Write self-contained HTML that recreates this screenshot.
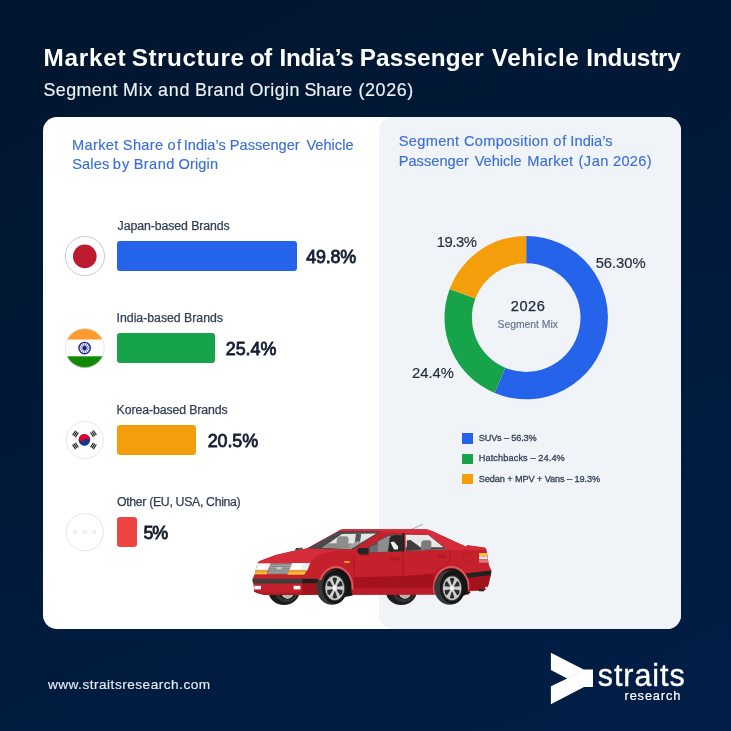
<!DOCTYPE html>
<html lang="en">
<head>
<meta charset="utf-8">
<title>Market Structure of India’s Passenger Vehicle Industry</title>
<style>
html,body{margin:0;padding:0}
body{width:731px;height:731px;position:relative;overflow:hidden;font-family:"Liberation Sans", Arial, sans-serif;
background:linear-gradient(155deg,rgb(1,22,46) 0%,rgb(1,30,71) 100%);background-color:#011a3a}
h1,h2,p,ul,li{margin:0;padding:0;font-size:inherit;font-weight:inherit;list-style:none}
.t{position:absolute;white-space:nowrap;line-height:1;margin:0;padding:0}
.card{position:absolute;left:43.3px;top:117px;width:637.7px;height:512.3px;background:#ffffff;border-radius:14px}
.panel{position:absolute;left:379.2px;top:117px;width:301.8px;height:512.3px;background:#f0f4f8;border-radius:14px}
.bar{position:absolute;left:117px;height:29.8px;border-radius:3px}
.sw{position:absolute;left:462.3px;width:10.3px;height:10.2px}
svg{position:absolute;left:0;top:0;overflow:visible}
</style>
</head>
<body>
<header>
<h1 class="t" id="title" style="left:43.50px;top:46.23px;font-size:24.3px;font-weight:700;color:#ffffff"><span style="letter-spacing:0.73px">Market</span> <span style="letter-spacing:0.52px;margin-left:-1.26px">Structure</span> <span style="letter-spacing:-0.80px;margin-left:-1.11px">of</span> <span style="letter-spacing:-0.27px;margin-left:1.26px">India’s</span> <span style="letter-spacing:0.14px;margin-left:-0.65px">Passenger</span> <span style="letter-spacing:0.53px;margin-left:1.09px">Vehicle</span> <span style="letter-spacing:-0.20px;margin-left:0.37px">Industry</span></h1>
<p class="t" id="sub" style="left:43.53px;top:82.04px;font-size:17.9px;font-weight:400;color:#eef2f8;-webkit-text-stroke:0.15px #eef2f8"><span style="letter-spacing:0.39px">Segment</span> <span style="letter-spacing:0.70px;margin-left:0.23px">Mix</span> <span style="letter-spacing:0.86px;margin-left:-0.12px">and</span> <span style="letter-spacing:0.38px;margin-left:-0.39px">Brand</span> <span style="letter-spacing:0.43px;margin-left:-0.06px">Origin</span> <span style="letter-spacing:-0.01px;margin-left:-0.41px">Share</span> <span style="letter-spacing:0.62px;margin-left:1.39px">(2026)</span></p>
</header>
<main>
<div class="card"></div>
<div class="panel"></div>
<section class="brand-origin">
<h2><span class="t" id="lh1" style="left:72.10px;top:138.14px;font-size:14.6px;font-weight:400;color:#3a6fd8;-webkit-text-stroke:0.15px #3a6fd8"><span style="letter-spacing:0.30px">Market</span> <span style="letter-spacing:0.35px;margin-left:0.25px">Share</span> <span style="letter-spacing:1.52px;margin-left:-0.19px">of</span> <span style="letter-spacing:0.01px;margin-left:-2.98px">India’s</span> <span style="letter-spacing:0.01px;margin-left:0.03px">Passenger</span> <span style="letter-spacing:0.00px;margin-left:2.74px">Vehicle</span></span>
<span class="t" id="lh2" style="left:72.22px;top:156.74px;font-size:14.6px;font-weight:400;color:#3a6fd8;-webkit-text-stroke:0.15px #3a6fd8"><span style="letter-spacing:0.15px">Sales</span> <span style="letter-spacing:1.18px;margin-left:-0.89px">by</span> <span style="letter-spacing:0.43px;margin-left:-0.88px">Brand</span> <span style="letter-spacing:0.12px;margin-left:-0.34px">Origin</span></span></h2>
<div class="row">
<svg width="731" height="731" viewBox="0 0 731 731" aria-hidden="true"><g id="flag-japan"><circle cx="84.9" cy="256.1" r="19.6" fill="#fff" stroke="#c3c6cd" stroke-width="0.9"/><circle cx="84.8" cy="256.4" r="11.8" fill="#bc1c2e"/></g></svg>
<div class="t" id="lab1" style="left:117.60px;top:220.29px;font-size:12.3px;font-weight:400;color:#334155;letter-spacing:-0.082px;-webkit-text-stroke:0.25px #334155">Japan-based Brands</div>
<div class="bar" style="top:241.1px;width:180.4px;background:#2563eb"></div>
<div class="t" id="val1" style="left:306.20px;top:249.04px;font-size:17.9px;font-weight:400;color:#141c2f;letter-spacing:-0.200px;-webkit-text-stroke:0.8px #141c2f">49.8%</div>
</div>
<div class="row">
<svg width="731" height="731" viewBox="0 0 731 731" aria-hidden="true"><g id="flag-india"><clipPath id="cpin"><circle cx="84.8" cy="348.1" r="19.7"/></clipPath><g clip-path="url(#cpin)"><rect x="60" y="325" width="50" height="14.7" fill="#ff9a2f"/><rect x="60" y="339.7" width="50" height="16.6" fill="#ffffff"/><rect x="60" y="356.3" width="50" height="14" fill="#128807"/></g><circle cx="84.8" cy="348.1" r="19.4" fill="none" stroke="#d8dadd" stroke-width="0.6"/><circle cx="84.6" cy="348.1" r="5.7" fill="none" stroke="#1b1f8a" stroke-width="1.3"/><circle cx="84.6" cy="348.1" r="2" fill="#1b1f8a"/><line x1="84.6" y1="348.1" x2="90.00" y2="348.10" stroke="#1b1f8a" stroke-width="0.6"/><line x1="84.6" y1="348.1" x2="89.28" y2="350.80" stroke="#1b1f8a" stroke-width="0.6"/><line x1="84.6" y1="348.1" x2="87.30" y2="352.78" stroke="#1b1f8a" stroke-width="0.6"/><line x1="84.6" y1="348.1" x2="84.60" y2="353.50" stroke="#1b1f8a" stroke-width="0.6"/><line x1="84.6" y1="348.1" x2="81.90" y2="352.78" stroke="#1b1f8a" stroke-width="0.6"/><line x1="84.6" y1="348.1" x2="79.92" y2="350.80" stroke="#1b1f8a" stroke-width="0.6"/><line x1="84.6" y1="348.1" x2="79.20" y2="348.10" stroke="#1b1f8a" stroke-width="0.6"/><line x1="84.6" y1="348.1" x2="79.92" y2="345.40" stroke="#1b1f8a" stroke-width="0.6"/><line x1="84.6" y1="348.1" x2="81.90" y2="343.42" stroke="#1b1f8a" stroke-width="0.6"/><line x1="84.6" y1="348.1" x2="84.60" y2="342.70" stroke="#1b1f8a" stroke-width="0.6"/><line x1="84.6" y1="348.1" x2="87.30" y2="343.42" stroke="#1b1f8a" stroke-width="0.6"/><line x1="84.6" y1="348.1" x2="89.28" y2="345.40" stroke="#1b1f8a" stroke-width="0.6"/></g></svg>
<div class="t" id="lab2" style="left:116.60px;top:312.39px;font-size:12.3px;font-weight:400;color:#334155;letter-spacing:-0.019px;-webkit-text-stroke:0.25px #334155">India-based Brands</div>
<div class="bar" style="top:333.1px;width:98.3px;background:#16a34a"></div>
<div class="t" id="val2" style="left:225.69px;top:340.84px;font-size:17.9px;font-weight:400;color:#141c2f;letter-spacing:0.001px;-webkit-text-stroke:0.8px #141c2f">25.4%</div>
</div>
<div class="row">
<svg width="731" height="731" viewBox="0 0 731 731" aria-hidden="true"><g id="flag-korea"><circle cx="84.8" cy="440.0" r="18.6" fill="#fff" stroke="#e1e3e7" stroke-width="0.9"/><g transform="rotate(33.7 84.4 440.0)"><circle cx="84.4" cy="440.0" r="5.8" fill="#0e3a8e"/><path d="M78.60000000000001 440.0A5.8 5.8 0 0 1 90.2 440.0A2.9 2.9 0 0 0 84.4 440.0A2.9 2.9 0 0 1 78.60000000000001 440.0Z" fill="#e3002d"/></g><g transform="translate(75.5 433.9) rotate(-145.6)" stroke="#1c1c1c" stroke-width="1.1"><line x1="-1.7" y1="-2.7" x2="-1.7" y2="2.7"/><line x1="0" y1="-2.7" x2="0" y2="2.7"/><line x1="1.7" y1="-2.7" x2="1.7" y2="2.7"/></g><g transform="translate(93.4 433.7) rotate(-35.0)" stroke="#1c1c1c" stroke-width="1.1"><line x1="-1.7" y1="-2.7" x2="-1.7" y2="2.7"/><line x1="0" y1="-2.7" x2="0" y2="2.7"/><line x1="1.7" y1="-2.7" x2="1.7" y2="2.7"/></g><g transform="translate(75.5 445.9) rotate(146.5)" stroke="#1c1c1c" stroke-width="1.1"><line x1="-1.7" y1="-2.7" x2="-1.7" y2="2.7"/><line x1="0" y1="-2.7" x2="0" y2="2.7"/><line x1="1.7" y1="-2.7" x2="1.7" y2="2.7"/></g><g transform="translate(93.4 445.9) rotate(33.2)" stroke="#1c1c1c" stroke-width="1.1"><line x1="-1.7" y1="-2.7" x2="-1.7" y2="2.7"/><line x1="0" y1="-2.7" x2="0" y2="2.7"/><line x1="1.7" y1="-2.7" x2="1.7" y2="2.7"/></g></g></svg>
<div class="t" id="lab3" style="left:116.60px;top:404.49px;font-size:12.3px;font-weight:400;color:#334155;letter-spacing:-0.098px;-webkit-text-stroke:0.25px #334155">Korea-based Brands</div>
<div class="bar" style="top:425.1px;width:79.3px;background:#f59e0b"></div>
<div class="t" id="val3" style="left:207.69px;top:432.64px;font-size:17.9px;font-weight:400;color:#141c2f;letter-spacing:-0.074px;-webkit-text-stroke:0.8px #141c2f">20.5%</div>
</div>
<div class="row">
<svg width="731" height="731" viewBox="0 0 731 731" aria-hidden="true"><g id="flag-other"><circle cx="84.8" cy="532.2" r="18.6" fill="#fff" stroke="#dfe1e4" stroke-width="0.9"/><circle cx="75.1" cy="532" r="1.4" fill="#fff" stroke="#d3d6da" stroke-width="0.7"/><circle cx="84.7" cy="532" r="1.4" fill="#fff" stroke="#d3d6da" stroke-width="0.7"/><circle cx="94.5" cy="532" r="1.4" fill="#fff" stroke="#d3d6da" stroke-width="0.7"/></g></svg>
<div class="t" id="lab4" style="left:116.98px;top:496.49px;font-size:12.3px;font-weight:400;color:#334155;letter-spacing:-0.323px;-webkit-text-stroke:0.25px #334155">Other (EU, USA, China)</div>
<div class="bar" style="top:517.1px;width:20.0px;background:#ef4444"></div>
<div class="t" id="val4" style="left:143.51px;top:524.64px;font-size:17.9px;font-weight:400;color:#141c2f;letter-spacing:-1.122px;-webkit-text-stroke:0.8px #141c2f">5%</div>
</div>
</section>
<section class="segment-mix">
<h2><span class="t" id="rh1" style="left:398.82px;top:134.44px;font-size:14.6px;font-weight:400;color:#3a6fd8;-webkit-text-stroke:0.15px #3a6fd8"><span style="letter-spacing:0.30px">Segment</span> <span style="letter-spacing:0.33px;margin-left:0.49px">Composition</span> <span style="letter-spacing:1.02px;margin-left:0.55px">of</span> <span style="letter-spacing:0.06px;margin-left:-1.18px">India’s</span></span>
<span class="t" id="rh2" style="left:398.70px;top:154.34px;font-size:14.6px;font-weight:400;color:#3a6fd8;-webkit-text-stroke:0.15px #3a6fd8"><span style="letter-spacing:0.04px">Passenger</span> <span style="letter-spacing:-0.02px;margin-left:1.82px">Vehicle</span> <span style="letter-spacing:0.26px;margin-left:1.59px">Market</span> <span style="letter-spacing:0.48px;margin-left:1.02px">(Jan</span> <span style="letter-spacing:0.32px;margin-left:0.07px">2026)</span></span></h2>
<div class="donut">
<svg width="731" height="731" viewBox="0 0 731 731" aria-hidden="true">
<path d="M526.20 235.90A81.7 81.7 0 1 1 494.70 392.98L505.26 367.70A54.3 54.3 0 1 0 526.20 263.30Z" fill="#2563eb"/>
<path d="M494.70 392.98A81.7 81.7 0 0 1 449.68 288.96L475.35 298.57A54.3 54.3 0 0 0 505.26 367.70Z" fill="#16a34a"/>
<path d="M449.68 288.96A81.7 81.7 0 0 1 526.20 235.90L526.20 263.30A54.3 54.3 0 0 0 475.35 298.57Z" fill="#f59e0b"/>
</svg>
<div class="t" id="d1" style="left:595.66px;top:255.57px;font-size:14.8px;font-weight:400;color:#1f2937;letter-spacing:-0.053px;-webkit-text-stroke:0.15px #1f2937">56.30%</div>
<div class="t" id="d2" style="left:412.05px;top:365.87px;font-size:14.8px;font-weight:400;color:#1f2937;letter-spacing:0.002px;-webkit-text-stroke:0.15px #1f2937">24.4%</div>
<div class="t" id="d3" style="left:436.70px;top:235.27px;font-size:14.8px;font-weight:400;color:#1f2937;letter-spacing:-0.460px;-webkit-text-stroke:0.15px #1f2937">19.3%</div>
<div class="t" id="c1" style="left:510.76px;top:299.04px;font-size:14.6px;font-weight:400;color:#1e293b;letter-spacing:0.546px;-webkit-text-stroke:0.25px #1e293b">2026</div>
<div class="t" id="c2" style="left:497.61px;top:320.49px;font-size:10.4px;font-weight:400;color:#64748b;letter-spacing:-0.035px;-webkit-text-stroke:0.15px #64748b">Segment Mix</div>
</div>
<ul class="legend">
<li><i class="sw" style="top:433.4px;background:#2563eb"></i><span class="t" id="lg1" style="left:478.74px;top:433.91px;font-size:9.2px;font-weight:400;color:#334155;letter-spacing:-0.168px;-webkit-text-stroke:0.28px #334155">SUVs – 56.3%</span></li>
<li><i class="sw" style="top:453.9px;background:#16a34a"></i><span class="t" id="lg2" style="left:478.75px;top:454.31px;font-size:9.2px;font-weight:400;color:#334155;letter-spacing:0.103px;-webkit-text-stroke:0.28px #334155">Hatchbacks – 24.4%</span></li>
<li><i class="sw" style="top:474.3px;background:#f59e0b"></i><span class="t" id="lg3" style="left:478.74px;top:474.61px;font-size:9.2px;font-weight:400;color:#334155;letter-spacing:-0.102px;-webkit-text-stroke:0.28px #334155">Sedan + MPV + Vans – 19.3%</span></li>
</ul>
</section>
<svg width="731" height="731" viewBox="0 0 731 731" aria-hidden="true">
<g id="car">
<ellipse cx="284.0" cy="591.5" rx="15.4" ry="13.4" fill="#1b1b1b"/>
<ellipse cx="286.6" cy="591" rx="11.6" ry="11.2" fill="#343434"/>
<ellipse cx="287.4" cy="590" rx="9.2" ry="9.6" fill="#151515"/>
<ellipse cx="287.6" cy="590.5" rx="6.9" ry="8.4" fill="#b5b5b5"/>
<ellipse cx="401.3" cy="591.5" rx="15.4" ry="13.4" fill="#1b1b1b"/>
<ellipse cx="403.90000000000003" cy="591" rx="11.6" ry="11.2" fill="#343434"/>
<ellipse cx="404.7" cy="590" rx="9.2" ry="9.6" fill="#151515"/>
<ellipse cx="404.90000000000003" cy="590.5" rx="6.9" ry="8.4" fill="#b5b5b5"/>
<path d="M257.3 563.7Q257.8 561.6 259.8 560.9L275.8 555.1L294.2 550.8L306.5 548.6L338.2 531Q340.2 529.5 343.5 529.3L426.5 529.2Q432 530.4 437.3 533.5L465.6 546.5L467.5 545.2L485.3 547.7Q486.6 549 486.9 552L489 565.5L491.5 570.5L490.8 575.4L487.8 587.1Q486.6 590 484.1 590.3L470.5 590.8L469 594.5L300 594.8L268.4 595.1Q258 594.2 254.2 591.4L253.4 583.4L252.6 578.8L254.6 574.2Z" fill="#c4212c"/>
<path d="M257.6 563.3Q258 561.5 259.8 560.9L275.8 555.1L294.2 550.8L306.5 548.6L353.6 550.2Q340 549.6 324 553.2Q313 556.5 310.2 563.3Z" fill="#d42c38"/>
<path d="M338.2 531Q340.2 529.5 343.5 529.3L426.5 529.2Q432 530.4 437.3 533.5L465.6 546.5L467.5 545.2L485.3 547.7L486.4 550L455 550.6L446 549.5L429 534.6L379 531.3Z" fill="#d42c38"/>
<path d="M354 577.2L403 576.0L433.7 573.3Q433.2 580 433.2 585.5Q432.8 587.7 430 587.7L354.2 587.7Z" fill="#a4131b"/>
<path d="M302.2 583.4L317.8 583.4L317.8 594.7L302.2 594.9Z" fill="#a4131b"/>
<path d="M254.2 591.4Q258 594.2 268.4 595.1L302.2 594.9L302.2 592.6L268 592.8Q258 592 253.9 589.5Z" fill="#b11a24"/>
<path d="M466.2 577.8L490.8 575.1L487.8 587.1Q486.6 590 484.1 590.3L470.5 590.8Q468 584 466.2 577.8Z" fill="#a4131b"/>
<path d="M350 587.9L432 587.9L434 594.6L350 594.7Z" fill="#bb1c27"/>
<path d="M307.5 548.6L338.4 531.4L380.6 531.6L352.8 549.5Z" fill="#4a4a4a"/>
<path d="M322.2 547.8L342 534L376.2 533.6L351 548.8Z" fill="#e4e4e4"/>
<path d="M322.2 547.8L329 543.2L352 543.4L358 544.6L350.8 548.6Z" fill="#8b8b8b"/>
<path d="M336.6 545.5Q336 537.2 339.5 536.2L346.5 536.2Q349.2 537 348.6 541L347.2 546Z" fill="#8e8e8e"/>
<path d="M356 533.8L361.2 533.8L359.8 543.6L354.6 543.6Z" fill="#555"/>
<path d="M348 546.5L356.5 541.5L362 541.2L352 548Z" fill="#a5a5a5"/>
<path d="M367.6 552.5L367.6 547.6L388.4 534.8L402.6 534.2L402.6 551.4Z" fill="#515151"/>
<path d="M370 552.3L370.4 546.2L377.5 544.4L377.5 552Z" fill="#6e6e6e"/>
<path d="M377.5 552L377.8 541.5L388.5 536L390.5 536L387.5 551.7Z" fill="#8d8d8d"/>
<path d="M388.5 551.7L389.6 538Q392 535 396 535.2L402.5 535.4L402.5 551.3Z" fill="#262626"/>
<path d="M390.4 542.2L393.8 541.6L398.2 546.6L397.8 549.6L394 549.4Z" fill="#ececec"/>
<path d="M405.6 534.8L428.8 534.9L445.4 548.5L445.4 549.3L405.6 550.9Z" fill="#e7e7e7"/>
<path d="M405.6 547.3L443.8 547.2L445.4 548.6L445.4 549.3L405.6 550.9Z" fill="#474747"/>
<path d="M406.6 550.6L406.8 540.4L410.5 540L419.5 546.4L420.5 550.2Z" fill="#3f3f3f"/>
<path d="M420.8 549.8L421.4 542Q422 540.2 424 540.2L429.6 540.2Q431.6 540.6 431.4 543L431 549.4Z" fill="#7c7c7c"/>
<path d="M428.8 534.9L445.4 548.5" stroke="#5a2a2e" stroke-width="0.6" fill="none"/>
<path d="M402.4 532.8L404.3 532.8L404.3 551.4L402.4 551.5Z" fill="#1e1e1e"/>
<path d="M353.6 555.5L354.2 587.7L430 587.7Q432.8 587.7 433.2 585.5Q433.6 574.5 437.3 570.3Q446.5 565 449.6 560Q451 556 449.6 550.8M402.7 551.5L403.2 587.7" fill="none" stroke="#98121b" stroke-width="0.7"/>
<path d="M390.4 558.2L400 558.2M390.4 559.8L400 559.8M437 555.6L446.4 555.6M437 557.2L446.4 557.2" stroke="#98121b" stroke-width="0.6" fill="none"/>
<path d="M357.4 549.6Q357.6 548.2 359.2 548.1L367.2 548Q368.5 548.2 368.5 549.6L368.5 553.2Q368.4 554.5 367 554.5L360 554.5Q357.2 553.5 357.4 549.6Z" fill="#252525"/>
<path d="M360.5 554.5L368.3 554.5L368.3 555.8L360.8 555.6Z" fill="#a3121a"/>
<rect x="344.4" y="561" width="5.3" height="2.1" rx="0.4" fill="#f6a11f"/>
<path d="M294.8 550.4L296 547.9L302.8 547.7L302.6 549.2Z" fill="#474747"/>
<path d="M411.8 529.3L422.9 524.2" stroke="#5a5a5a" stroke-width="0.5"/>
<path d="M257.4 563.3L270.9 563.3L267.8 570.5L255.6 570.5Z" fill="#f1f1f1"/>
<path d="M255.6 570.5L267.8 570.5L266.6 574.3L254.6 574.3Z" fill="#f6a31c"/>
<path d="M258.6 564.2L266 564.2L264.6 569.2L257.4 569.2Z" fill="#ffffff"/>
<path d="M270.9 563.3L291.9 563.3L287.6 574.3L267.2 574.3Z" fill="#8a8a8a"/>
<path d="M270.2 565.3L291 565.3M269.4 567.6L290.2 567.6M268.6 569.9L289.3 569.9M267.8 572.2L288.4 572.2" stroke="#a9a9a9" stroke-width="0.8" fill="none"/>
<rect x="276.6" y="567" width="5" height="2.2" fill="#cfcfcf"/>
<path d="M291.9 563.1L310.3 563.1L307.2 570.5L289.1 570.5Z" fill="#eeeeee"/>
<path d="M289.1 570.5L307.2 570.5L304.2 574.4L287.6 574.4Z" fill="#f6a31c"/>
<path d="M294 564L302.5 564L300.6 569.2L292.2 569.2Z" fill="#ffffff"/>
<path d="M288.4 572.6L305.4 572.6L304.2 574.4L287.6 574.4Z" fill="#f8c23a"/>
<path d="M255.1 572.6L267.2 572.6L266.6 574.3L254.6 574.3Z" fill="#f8c23a"/>
<path d="M252.6 578.8L302.2 578.8L302.2 583.4L253 583.4Q252.3 581 252.6 578.8Z" fill="#3d3d3d"/>
<path d="M302.2 578.8L318 578.8L318 583.4L302.2 583.4Z" fill="#1f1f1f"/>
<rect x="254.3" y="585.8" width="6.7" height="3.6" fill="#fbfbfb"/>
<rect x="293.6" y="585.8" width="6.8" height="3.6" fill="#fbfbfb"/>
<path d="M465 573.5L490.9 570.6Q491.6 573 490.8 575.2L466.2 577.9Z" fill="#222"/>
<path d="M479.1 553.1L486.8 553.1L487.4 556.4L479.1 556.4Z" fill="#f6c53c"/>
<path d="M479.1 556.4L487.4 556.4L487.7 559.3L479.1 559.3Z" fill="#f4ecec"/>
<path d="M479.1 559.3L487.7 559.3L488 562.7L479.1 562.7Z" fill="#e0737b"/>
<circle cx="467.7" cy="557.9" r="4.5" fill="none" stroke="#a81a24" stroke-width="0.6"/>
<rect x="478.8" y="589" width="5.4" height="2.3" fill="#2a2a2a"/>
<rect x="485.2" y="586.8" width="2.6" height="2.2" fill="#e9e9e9"/>
<path d="M321.15 594.00A15.7 19.0 0 1 1 351.26 591.45L352.7 595.6L342.29999999999995 597.5L318.5 595.5Z" fill="#141414"/>
<path d="M320.11 581.13A16.599999999999998 20.6 0 0 1 352.46 588.94" fill="none" stroke="#dc5a63" stroke-width="1.7" stroke-linecap="round"/>
<clipPath id="cw331"><ellipse cx="335.9" cy="587.5" rx="15.7" ry="19.0"/><rect x="311.9" y="580.0" width="46" height="30"/></clipPath>
<g clip-path="url(#cw331)"><ellipse cx="331.9" cy="587.5" rx="15.4" ry="17.3" fill="#383838"/>
<ellipse cx="334.79999999999995" cy="587.3" rx="12.5" ry="16.6" fill="#161616"/></g>
<ellipse cx="334.8" cy="588.0" rx="10.200000000000001" ry="12.9" fill="#4e4e4e"/>
<ellipse cx="334.8" cy="588.0" rx="9.4" ry="12.0" fill="#cecece"/>
<path d="M337.41 589.35L342.52 590.10L342.13 593.40L340.08 595.49L337.02 590.22Z" fill="#2b2b2b"/>
<path d="M335.19 591.56L337.24 597.59L334.80 598.80L332.36 597.59L334.41 591.56Z" fill="#2b2b2b"/>
<path d="M332.58 590.22L329.52 595.49L327.47 593.40L327.08 590.10L332.19 589.35Z" fill="#2b2b2b"/>
<path d="M332.19 586.65L327.08 585.90L327.47 582.60L329.52 580.51L332.58 585.78Z" fill="#2b2b2b"/>
<path d="M334.41 584.44L332.36 578.41L334.80 577.20L337.24 578.41L335.19 584.44Z" fill="#2b2b2b"/>
<path d="M337.02 585.78L340.08 580.51L342.13 582.60L342.52 585.90L337.41 586.65Z" fill="#2b2b2b"/>
<ellipse cx="334.8" cy="588.0" rx="1.88" ry="2.40" fill="#f4f4f4"/>
<path d="M435.80 594.00A16.5 19.0 0 1 1 467.44 591.45L470.8 592.3L460.0 597.5L436.20000000000005 595.5Z" fill="#141414"/>
<path d="M434.85 594.21A17.4 20.6 0 1 1 468.69 588.22" fill="none" stroke="#dc5a63" stroke-width="1.7" stroke-linecap="round"/>
<clipPath id="cw449"><ellipse cx="451.3" cy="587.5" rx="16.5" ry="19.0"/><rect x="429.6" y="580.0" width="46" height="30"/></clipPath>
<g clip-path="url(#cw449)"><ellipse cx="449.6" cy="587.5" rx="15.4" ry="17.3" fill="#383838"/>
<ellipse cx="452.5" cy="587.3" rx="12.5" ry="16.6" fill="#161616"/></g>
<ellipse cx="452.1" cy="588.2" rx="9.9" ry="12.700000000000001" fill="#4e4e4e"/>
<ellipse cx="452.1" cy="588.2" rx="9.1" ry="11.8" fill="#cecece"/>
<path d="M454.63 589.53L459.58 590.26L459.19 593.51L457.21 595.57L454.25 590.38Z" fill="#2b2b2b"/>
<path d="M452.48 591.71L454.46 597.63L452.10 598.82L449.74 597.63L451.72 591.71Z" fill="#2b2b2b"/>
<path d="M449.95 590.38L446.99 595.57L445.01 593.51L444.62 590.26L449.57 589.53Z" fill="#2b2b2b"/>
<path d="M449.57 586.87L444.62 586.14L445.01 582.89L446.99 580.83L449.95 586.02Z" fill="#2b2b2b"/>
<path d="M451.72 584.69L449.74 578.77L452.10 577.58L454.46 578.77L452.48 584.69Z" fill="#2b2b2b"/>
<path d="M454.25 586.02L457.21 580.83L459.19 582.89L459.58 586.14L454.63 586.87Z" fill="#2b2b2b"/>
<ellipse cx="452.1" cy="588.2" rx="1.82" ry="2.36" fill="#f4f4f4"/>
</g>
</svg>
</main>
<footer>
<div class="t" id="url" style="left:47.90px;top:677.88px;font-size:13.6px;font-weight:400;color:#e6ebf3;letter-spacing:0.506px;-webkit-text-stroke:0.15px #e6ebf3">www.straitsresearch.com</div>
<div class="logo">
<svg width="731" height="731" viewBox="0 0 731 731" aria-hidden="true">
<polygon points="550.9,652.8 583.6,669.5 593,669.5 593,687 584,687 550.9,704.2 550.9,686.2 567.2,678.5 550.9,670" fill="#ffffff"/>
<line x1="567.2" y1="678.5" x2="583.6" y2="670" stroke="#e3e6ec" stroke-width="0.5"/>
</svg>
<div class="t" id="logo1" style="left:597.72px;top:660.28px;font-size:30.5px;font-weight:400;color:#ffffff;letter-spacing:0.934px;-webkit-text-stroke:0.35px #ffffff">straits</div>
<div class="t" id="logo2" style="left:624.53px;top:689.86px;font-size:12.8px;font-weight:400;color:#ffffff;letter-spacing:0.863px;-webkit-text-stroke:0.2px #ffffff">research</div>
</div>
</footer>
</body>
</html>
